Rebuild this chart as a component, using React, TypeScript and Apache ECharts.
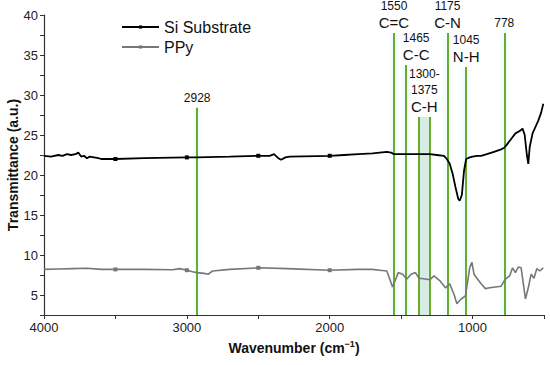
import React, { useEffect, useRef } from "react";
import * as echarts from "echarts";

// Si Substrate transmittance (wavenumber cm-1, value)
const siWave = [4000, 3950, 3900, 3870, 3840, 3810, 3780, 3760, 3740, 3720, 3700, 3680, 3650, 3620, 3600, 3500, 3300, 3000, 2928, 2700, 2500, 2420, 2390, 2360, 2340, 2310, 2280, 2000, 1900, 1800, 1700, 1650, 1600, 1570, 1550, 1500, 1400, 1300, 1250, 1200, 1180, 1160, 1140, 1120, 1100, 1090, 1075, 1060, 1045, 1020, 1000, 970, 940, 900, 850, 800, 778, 760, 730, 700, 670, 650, 635, 620, 610, 600, 580, 560, 540, 520, 505];
const siValue = [22.4, 22.3, 22.5, 22.4, 22.6, 22.5, 22.6, 22.8, 22.3, 22.4, 22.1, 22.3, 22.2, 22.1, 22.0, 22.0, 22.1, 22.2, 22.2, 22.3, 22.4, 22.4, 22.6, 22.1, 21.9, 22.2, 22.3, 22.4, 22.5, 22.6, 22.7, 22.8, 22.9, 22.8, 22.6, 22.6, 22.6, 22.6, 22.5, 22.4, 22.0, 21.4, 20.2, 18.5, 17.0, 16.8, 17.5, 20.5, 22.0, 22.2, 22.3, 22.4, 22.4, 22.6, 22.9, 23.2, 23.4, 23.8, 24.5, 25.2, 25.5, 25.8, 25.0, 22.5, 21.4, 23.5, 25.2, 26.0, 26.8, 27.8, 28.9];

// PPy transmittance
const ppyWave = [4000, 3900, 3800, 3700, 3600, 3500, 3300, 3100, 3050, 3000, 2960, 2928, 2880, 2850, 2820, 2700, 2500, 2300, 2000, 1800, 1700, 1650, 1600, 1560, 1520, 1490, 1460, 1430, 1400, 1375, 1330, 1300, 1270, 1230, 1190, 1160, 1130, 1110, 1080, 1050, 1020, 1005, 990, 970, 940, 910, 880, 840, 800, 770, 740, 720, 700, 680, 660, 630, 610, 590, 570, 550, 530, 505];
const ppyValue = [8.2, 8.25, 8.3, 8.35, 8.2, 8.2, 8.2, 8.15, 8.3, 8.1, 7.9, 7.8, 7.7, 7.6, 8.0, 8.2, 8.4, 8.3, 8.1, 8.2, 8.2, 8.1, 8.0, 6.0, 7.8, 7.6, 7.0, 7.6, 7.8, 7.1, 7.0, 6.9, 7.4, 6.8, 5.9, 6.4, 5.1, 3.9, 4.5, 4.9, 8.4, 9.1, 7.6, 7.1, 6.4, 5.8, 5.9, 6.0, 6.1, 7.0, 7.4, 8.4, 7.8, 8.5, 8.4, 4.5, 5.9, 7.6, 7.1, 8.3, 8.0, 8.4];

const markerWaves = [3500, 3000, 2500, 2000];

// Peak assignments
const peakWave = [2928, 1550, 1465, 1175, 1045, 778];
const peakTop = [28.4, 37.75, 33.75, 37.75, 33.5, 37.75];
const peakNumber = ["2928", "1550", "1465", "1175", "1045", "778"];
const peakGroup = ["", "C=C", "C-C", "C-N", "N-H", ""];

const bandFrom = 1375;
const bandTo = 1300;
const bandTop = 27.25;
const bandText = ["1300-", "1375", "C-H"];

const yMin = 2.5;
const GREEN = "#6aab2c";

function buildData(w: number[], v: number[]) {
  return w.map((x, i) => {
    const item: any = { value: [x, v[i]] };
    if (markerWaves.indexOf(x) < 0) item.symbol = "none";
    return item;
  });
}

export default function App() {
  const ref = useRef<HTMLDivElement>(null);
  useEffect(() => {
    if (!ref.current) return;
    const chart = echarts.init(ref.current, null, { renderer: "svg" });
    const font = "Arial, 'Liberation Sans', sans-serif";
    const rich = {
      n: { fontSize: 12, lineHeight: 16, color: "#111", fontFamily: font },
      c: { fontSize: 15, lineHeight: 17, color: "#111", fontFamily: font },
    };
    const lineData = peakWave.map((x, i) => [
      {
        coord: [x, yMin],
        label: {
          show: true,
          position: "end",
          distance: 2,
          offset: x === 1465 ? [10, 0] : [0, 0],
          formatter: peakGroup[i]
            ? `{n|${peakNumber[i]}}\n{c|${peakGroup[i]}}`
            : `{n|${peakNumber[i]}}`,
          rich,
        },
      },
      { coord: [x, peakTop[i]] },
    ]);
    const bandLines = [bandFrom, bandTo].map((x) => [
      { coord: [x, yMin], label: { show: false } },
      { coord: [x, bandTop] },
    ]);
    const cyanAreas = peakWave.map((x, i) => [
      { xAxis: x + 30, yAxis: yMin, itemStyle: { color: "rgba(215,248,248,0.3)" } },
      { xAxis: x - 30, yAxis: peakTop[i] },
    ]);
    const option: any = {
      animation: false,
      grid: { left: 44, right: 6, top: 15, bottom: 50, outerBoundsMode: "none" },
      legend: {
        left: 116,
        top: 13,
        orient: "vertical",
        itemWidth: 37,
        itemHeight: 4,
        itemGap: 2,
        textStyle: { fontSize: 16, color: "#111", fontFamily: font, lineHeight: 18 },
        data: ["Si Substrate", "PPy"],
      },
      xAxis: {
        type: "value",
        inverse: true,
        min: 500,
        max: 4000,
        interval: 500,
        name: "Wavenumber (cm{sup|−1})",
        nameLocation: "middle",
        nameGap: 24,
        nameMoveOverlap: false,
        nameTextStyle: {
          fontSize: 14,
          fontWeight: "bold",
          color: "#111",
          fontFamily: font,
          rich: {
            sup: { fontSize: 9, fontWeight: "bold", verticalAlign: "top", padding: [0, 0, 8, 0], color: "#111" },
          },
        },
        axisLine: { lineStyle: { color: "#333", width: 1.2 } },
        axisTick: { length: 4, lineStyle: { color: "#333" } },
        axisLabel: {
          fontSize: 13,
          color: "#222",
          fontFamily: font,
          margin: 6,
          formatter: (v: number) => (v % 1000 === 0 ? String(v) : ""),
        },
        splitLine: { show: false },
      },
      yAxis: {
        type: "value",
        min: yMin,
        max: 40,
        interval: 2.5,
        name: "Transmittance (a.u.)",
        nameLocation: "middle",
        nameGap: 24,
        nameMoveOverlap: false,
        nameTextStyle: { fontSize: 14, fontWeight: "bold", color: "#111", fontFamily: font },
        axisLine: { show: true, lineStyle: { color: "#333", width: 1.2 } },
        axisTick: { length: 4, lineStyle: { color: "#333" } },
        axisLabel: {
          fontSize: 13,
          color: "#222",
          fontFamily: font,
          margin: 6,
          formatter: (v: number) => (v % 5 === 0 ? String(v) : ""),
        },
        splitLine: { show: false },
      },
      series: [
        {
          name: "annotations",
          type: "line",
          data: [],
          silent: true,
          markArea: {
            silent: true,
            data: [
              ...cyanAreas,
              [
                {
                  xAxis: bandFrom,
                  yAxis: yMin,
                  itemStyle: { color: "#d6ece4" },
                  label: {
                    show: true,
                    position: "top",
                    distance: 2,
                    formatter: `{n|${bandText[0]}}\n{n|${bandText[1]}}\n{c|${bandText[2]}}`,
                    rich,
                  },
                },
                { xAxis: bandTo, yAxis: bandTop },
              ],
            ],
          },
          markLine: {
            silent: true,
            symbol: ["none", "none"],
            lineStyle: { color: GREEN, width: 2, type: "solid" },
            label: { show: false },
            data: [...lineData, ...bandLines],
          },
        },
        {
          name: "Si Substrate",
          type: "line",
          data: buildData(siWave, siValue),
          symbol: "rect",
          symbolSize: 4,
          showSymbol: true,
          showAllSymbol: true,
          color: "#000",
          lineStyle: { color: "#000", width: 1.8 },
          itemStyle: { color: "#000" },
          z: 5,
        },
        {
          name: "PPy",
          type: "line",
          data: buildData(ppyWave, ppyValue),
          symbol: "rect",
          symbolSize: 4,
          showSymbol: true,
          showAllSymbol: true,
          color: "#777",
          lineStyle: { color: "#777", width: 1.6 },
          itemStyle: { color: "#777" },
          z: 5,
        },
      ],
    };
    chart.setOption(option);
    return () => chart.dispose();
  }, []);
  return <div ref={ref} style={{ width: 550, height: 365, position: "absolute", left: 0, top: 0 }} />;
}
